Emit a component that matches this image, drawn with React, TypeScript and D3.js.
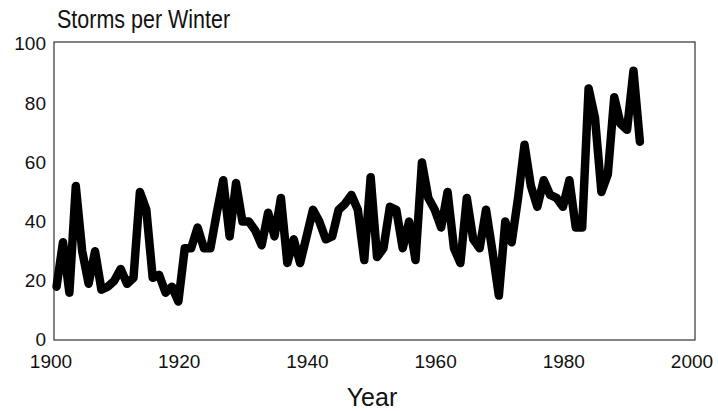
import * as d3 from 'd3';

// storms per winter, winters starting 1900 .. 1991
const FIRST_WINTER = 1900;
const STORMS = [
    18, 33, 16, 52, 30, 19, 30, 17, 18, 20,
    24, 19, 21, 50, 44, 21, 22, 16, 18, 13,
    31, 31, 38, 31, 31, 43, 54, 35, 53, 40,
    40, 37, 32, 43, 35, 48, 26, 34, 26, 35,
    44, 40, 34, 35, 44, 46, 49, 44, 27, 55,
    28, 31, 45, 44, 31, 40, 27, 60, 48, 44,
    38, 50, 31, 26, 48, 34, 31, 44, 30, 15,
    40, 33, 48, 66, 52, 45, 54, 49, 48, 45,
    54, 38, 38, 85, 75, 50, 56, 82, 73, 71,
    91, 67
];
const X_TICKS = [1900, 1920, 1940, 1960, 1980, 2000];
const Y_TICKS = [0, 20, 40, 60, 80, 100];

// a winter sits a little to the right of its starting year
const WINTER_SHIFT = 0.4;

const W = 718;
const H = 411;
const M = {left: 54, right: 23, top: 44, bottom: 71};
const FONT = '"Liberation Sans", Arial, Helvetica, sans-serif';

export default function App() {
    const points = STORMS.map((v, i) => ({year: FIRST_WINTER + i, value: v}));

    const x = d3.scaleLinear().domain([1900, 2000]).range([M.left, W - M.right]);
    const y = d3.scaleLinear().domain([0, 100]).range([H - M.bottom, M.top]);

    const line = d3.line<{year: number; value: number}>()
        .x((d) => x(d.year + WINTER_SHIFT))
        .y((d) => y(d.value));

    return (
        <svg width={W} height={H} style={{position: 'absolute', left: 0, top: 0, background: '#fff'}}>
            {/* frame */}
            <rect x={M.left} y={y(100) - 2} width={x(2000) - M.left} height={y(0) - y(100) + 2}
                fill="none" stroke="#333" strokeWidth={1.2} />

            {Y_TICKS.map((t) => (
                <text key={t} x={46} y={y(t)} dy="0.34em" textAnchor="end"
                    fontFamily={FONT} fontSize={19} fill="#111">{t}</text>
            ))}

            {X_TICKS.map((t) => (
                <text key={t} x={x(t) - 3} y={368} textAnchor="middle"
                    fontFamily={FONT} fontSize={19} fill="#111">{t}</text>
            ))}

            <path d={line(points) || ''} fill="none" stroke="#000" strokeWidth={8.5}
                strokeLinejoin="round" strokeLinecap="round" />

            {/* the scan uses a narrow face, squeeze the title a bit */}
            <text transform="translate(57,28) scale(0.86,1)" fontFamily={FONT} fontSize={25} fill="#111">
                Storms per Winter
            </text>
            <text x={372} y={406} textAnchor="middle" fontFamily={FONT} fontSize={25} fill="#111">Year</text>
        </svg>
    );
}
